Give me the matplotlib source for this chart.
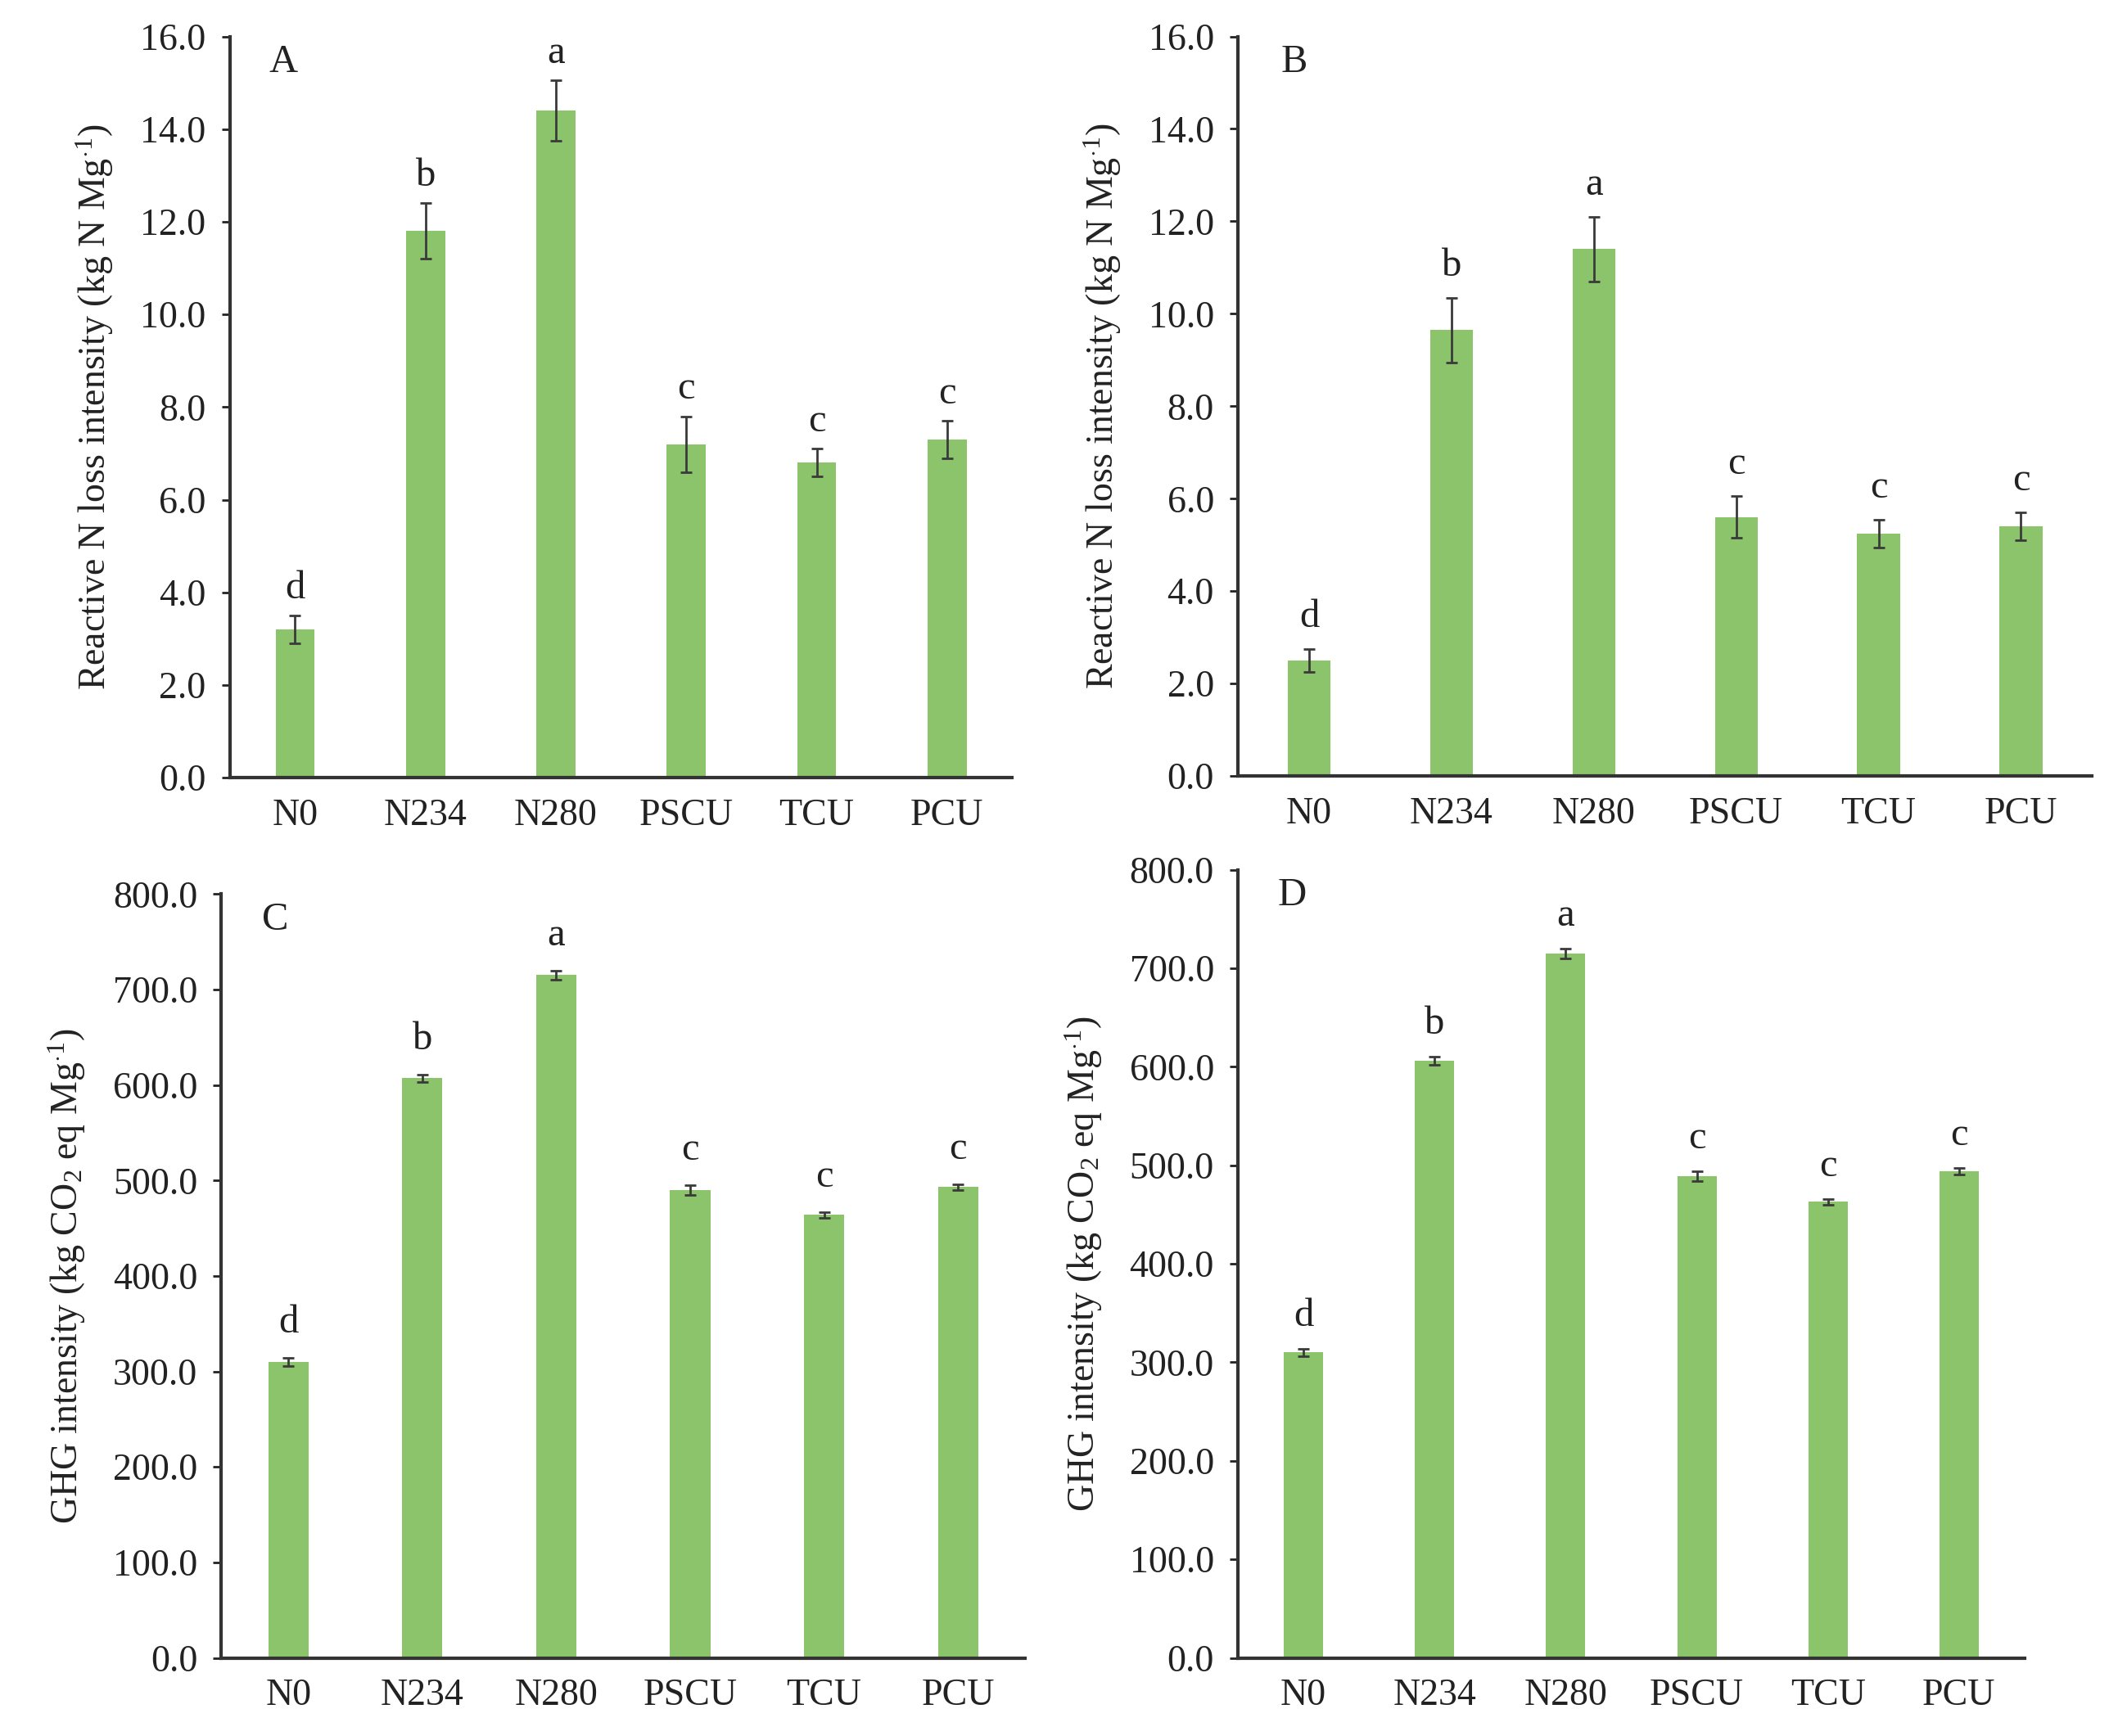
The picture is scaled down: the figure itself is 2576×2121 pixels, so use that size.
import numpy as np
import matplotlib
matplotlib.use("Agg")
import matplotlib.pyplot as plt
from matplotlib.ticker import FormatStrFormatter

plt.rcParams['font.family'] = ['Liberation Serif', 'DejaVu Serif']
plt.rcParams['mathtext.fontset'] = 'custom'
plt.rcParams['mathtext.rm'] = 'Liberation Serif'
plt.rcParams['mathtext.it'] = 'Liberation Serif:italic'

treatments = ['N0', 'N234', 'N280', 'PSCU', 'TCU', 'PCU']

# panel A / B: reactive N loss intensity
rn_a = [3.2, 11.8, 14.4, 7.2, 6.8, 7.3]
rn_a_err = [0.3, 0.6, 0.65, 0.6, 0.3, 0.4]
rn_b = [2.5, 9.65, 11.4, 5.6, 5.25, 5.4]
rn_b_err = [0.25, 0.7, 0.7, 0.45, 0.3, 0.3]
# panel C / D: GHG intensity
ghg_c = [310, 607, 715, 490, 464, 493]
ghg_c_err = [4, 4, 5, 5, 3, 3]
ghg_d = [310, 606, 715, 489, 463, 494]
ghg_d_err = [4, 4, 5, 5, 3, 3]

letters_a = ['d', 'b', 'a', 'c', 'c', 'c']
letters_b = ['d', 'b', 'a', 'c', 'c', 'c']
letters_c = ['d', 'b', 'a', 'c', 'c', 'c']
letters_d = ['d', 'b', 'a', 'c', 'c', 'c']

rn_label = 'Reactive N loss intensity (kg N Mg$^{\\cdot1}$)'
ghg_label = 'GHG intensity (kg CO$_2$ eq Mg$^{\\cdot1}$)'

bar_color = '#8cc46c'
axis_color = '#333333'
txt = '#222222'

fig = plt.figure(figsize=(25.76, 21.21), dpi=100)

panels = [
    ([0.109, 0.552, 0.371, 0.427], rn_a, rn_a_err, letters_a, 'A', 16, 2, rn_label, 0.2),
    ([0.587, 0.553, 0.405, 0.426], rn_b, rn_b_err, letters_b, 'B', 16, 2, rn_label, 0.3),
    ([0.105, 0.045, 0.381, 0.440], ghg_c, ghg_c_err, letters_c, 'C', 800, 100, ghg_label, 18),
    ([0.587, 0.045, 0.373, 0.454], ghg_d, ghg_d_err, letters_d, 'D', 800, 100, ghg_label, 15),
]

x = np.arange(len(treatments))
for rect, vals, errs, lets, tag, ymax, step, ylab, off in panels:
    ax = fig.add_axes(rect)
    ax.bar(x, vals, width=0.3, color=bar_color, zorder=2)
    ax.errorbar(x, vals, yerr=errs, fmt='none', ecolor='#3a3a3a',
                elinewidth=2, capsize=5, capthick=2, zorder=3)
    for xi, v, e, l in zip(x, vals, errs, lets):
        ax.text(xi, v + e + off, l, ha='center', va='bottom', fontsize=35,
                color=txt)
    ax.set_xlim(-0.5, 5.5)
    ax.set_ylim(0, ymax)
    ax.set_yticks(np.arange(0, ymax + step / 2, step))
    ax.yaxis.set_major_formatter(FormatStrFormatter('%.1f'))
    ax.set_xticks(x)
    ax.set_xticklabels(treatments)
    ax.tick_params(axis='x', length=0, pad=18, labelsize=33, colors=txt)
    ax.tick_params(axis='y', length=7, width=2, direction='out', pad=14,
                   labelsize=33, colors=txt)
    for s in ['top', 'right']:
        ax.spines[s].set_visible(False)
    for s in ['left', 'bottom']:
        ax.spines[s].set_linewidth(3)
        ax.spines[s].set_color(axis_color)
    ax.set_ylabel(ylab, fontsize=33, color=txt, labelpad=22)
    ax.text(0.05, 0.99, tag, transform=ax.transAxes, ha='left', va='top',
            fontsize=35, color=txt)

fig.savefig('out.png', dpi=100)
